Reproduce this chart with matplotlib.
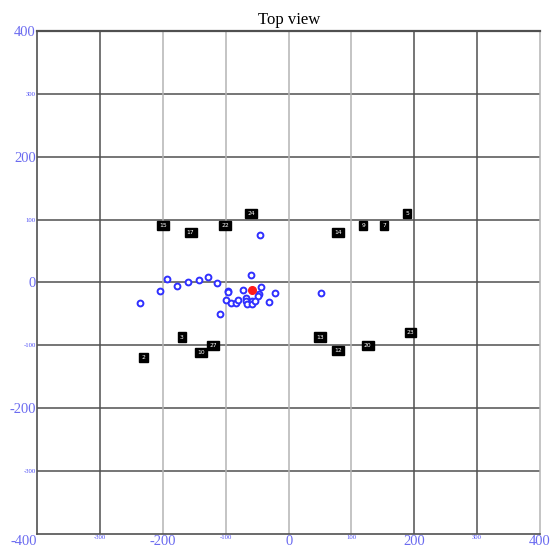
import matplotlib.pyplot as plt

# blue ring markers (top view positions)
blue_x = [-45, -194, -204, -236, -177, -160, -142, -128, -114, -109, -60, -96, -96,
          -73, -44, -21, -47, -49, -99, -92, -84, -80, -68, -68, -67, -58, -58, -53,
          -31, 51]
blue_y = [75, 5, -14, -33, -6, 1, 3, 9, -1, -51, 12, -13, -15,
          -12, -7, -17, -19, -21, -28, -33, -33, -28, -25, -29, -35, -29, -35, -29,
          -31, -17]

# red reference point
red_x = [-59]
red_y = [-12]

# numbered black tags
tag_names = ["15", "17", "22", "24", "3", "5", "9", "7", "14", "13", "12", "20", "23",
             "10", "27", "2"]
tag_x = [-200, -156, -101, -60, -170, 189, 119, 152, 79, 50, 79, 126, 194, -140, -120, -231]
tag_y = [90, 80, 91, 109, -87, 110, 90, 90, 80, -87, -109, -100, -80, -111, -100, -120]

big_ticks = [-400, -200, 0, 200, 400]

label_color = "#6b6bf0"
dark = "#505050"
light = "#b4b4b4"

plt.rcParams["font.family"] = ["Liberation Serif", "DejaVu Serif"]

fig = plt.figure(figsize=(5.54, 5.53), dpi=100)
ax = fig.add_axes([0.0673, 0.0349, 0.9074, 0.909])

ax.set_xlim(-400, 400)
ax.set_ylim(-400, 400)

# grid lines
for v in [-300, -200, -100, 0, 100, 200, 300]:
    ax.axhline(v, color=dark, lw=1.1, zorder=1)
for v in [-300, 200, 300]:
    ax.axvline(v, color=dark, lw=1.1, zorder=1)
for v in [-200, -100, 0, 100]:
    ax.axvline(v, color=light, lw=1.1, zorder=1)

for side in ["left", "bottom"]:
    ax.spines[side].set_color(dark)
    ax.spines[side].set_linewidth(1.2)
ax.spines["top"].set_color(dark)
ax.spines["top"].set_linewidth(1.6)
ax.spines["right"].set_color(light)
ax.spines["right"].set_linewidth(1.1)

ax.plot(blue_x, blue_y, "o", ms=4.2, mfc="white", mec="#2f2fff", mew=1.4, zorder=3)
ax.plot(red_x, red_y, "o", ms=5.5, color="#ff1a1a", zorder=4)

for name, x, y in zip(tag_names, tag_x, tag_y):
    ax.text(x, y, name, color="white", fontsize=4.3, ha="center", va="center",
            family="DejaVu Sans", zorder=5,
            bbox=dict(boxstyle="square,pad=0.35", fc="black", ec="black"))

# tick labels
xt = [-400, -300, -200, -100, 0, 100, 200, 300, 400]
ax.set_xticks(xt)
ax.set_xticklabels([str(v) for v in xt])
yt = [-300, -200, -100, 0, 100, 200, 300, 400]
ax.set_yticks(yt)
ax.set_yticklabels([str(v) for v in yt])
ax.tick_params(length=0, pad=1)
for lab, v in zip(ax.get_xticklabels(), xt):
    lab.set_color(label_color)
    if v in big_ticks:
        lab.set_fontsize(10.5)
    else:
        lab.set_fontsize(4.8)
        lab.set_color("#4a4af5")
    if v == -400:
        lab.set_ha("right")
for lab, v in zip(ax.get_yticklabels(), yt):
    lab.set_color(label_color)
    if v in big_ticks:
        lab.set_fontsize(10.5)
    else:
        lab.set_fontsize(4.8)
        lab.set_color("#4a4af5")

ax.set_title("Top view", fontsize=12, pad=5)

fig.savefig("out.png", dpi=100)
